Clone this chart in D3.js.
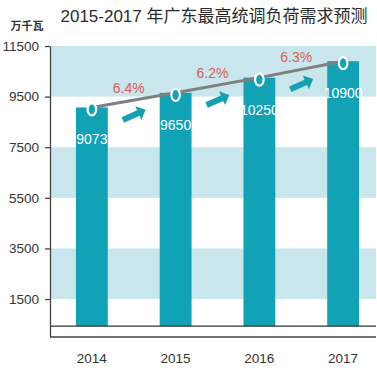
<!DOCTYPE html>
<html>
<head>
<meta charset="utf-8">
<script src="https://cdn.jsdelivr.net/npm/d3@7"></script>
<style>
  body { margin: 0; background: #fff; }
  text { font-family: "Liberation Sans", Arial, "Noto Sans CJK SC", sans-serif; }
</style>
</head>
<body>
<div id="chart"></div>
<script>
// data
const years = ["2014", "2015", "2016", "2017"];
const load = [9073, 9650, 10250, 10900];
const growth = ["6.4%", "6.2%", "6.3%"];
const yTicks = [1500, 3500, 5500, 7500, 9500, 11500];
const shadedBands = [[1500, 3500], [5500, 7500], [9500, 11500]];
const baseValue = 430;

const W = 377, H = 370;
const plotLeft = 50, plotRight = 376, plotTop = 46, plotBottom = 337;

const svg = d3.select("#chart").append("svg")
    .attr("width", W)
    .attr("height", H);

const x = d3.scaleBand().domain(years).range([plotLeft, 385])
    .paddingInner(0.62).paddingOuter(0.31);
const y = d3.scaleLinear().domain([0, 11500]).range([plotBottom, plotTop]);

//Shaded background bands
svg.selectAll(".band")
    .data(shadedBands)
    .enter().append("rect")
    .attr("x", plotLeft)
    .attr("width", plotRight - plotLeft)
    .attr("y", d => y(d[1]))
    .attr("height", d => y(d[0]) - y(d[1]))
    .attr("fill", "#c9e6ec");

//Bars
svg.selectAll(".bar")
    .data(years)
    .enter().append("rect")
    .attr("x", d => x(d))
    .attr("width", x.bandwidth())
    .attr("y", (d, i) => y(load[i]))
    .attr("height", (d, i) => y(baseValue) - y(load[i]))
    .attr("fill", "#12a2b6");

//Baseline and bottom line
svg.append("line")
    .attr("x1", plotLeft).attr("x2", plotRight)
    .attr("y1", y(baseValue)).attr("y2", y(baseValue))
    .attr("stroke", "#333").attr("stroke-width", 1.3);
svg.append("line")
    .attr("x1", plotLeft).attr("x2", plotRight)
    .attr("y1", y(0)).attr("y2", y(0))
    .attr("stroke", "#444").attr("stroke-width", 1.3);

//Left axis
const yAxis = svg.append("g")
    .attr("transform", "translate(" + plotLeft + ",0)")
    .call(d3.axisLeft(y).tickValues(yTicks).tickFormat(d3.format("d"))
        .tickSize(5).tickSizeOuter(0).tickPadding(6));
yAxis.select(".domain").attr("stroke", "#444").attr("stroke-width", 1.3);
yAxis.selectAll(".tick line").attr("stroke", "#444").attr("stroke-width", 1.3);
yAxis.selectAll(".tick text")
    .attr("fill", "#333")
    .style("font-size", "13.5px");

//Year labels
svg.selectAll(".year")
    .data(years)
    .enter().append("text")
    .attr("x", d => x(d) + x.bandwidth() / 2)
    .attr("y", 363)
    .attr("text-anchor", "middle")
    .attr("fill", "#333")
    .style("font-size", "13.5px")
    .text(d => d);

//Trend line through the bar tops
const cx = d => x(d) + x.bandwidth() / 2;
const line = d3.line()
    .x((d, i) => cx(years[i]))
    .y(d => y(d));
svg.append("path")
    .datum(load)
    .attr("d", line)
    .attr("fill", "none")
    .attr("stroke", "#7d7f80")
    .attr("stroke-width", 3);

//Markers
svg.selectAll(".dot")
    .data(load)
    .enter().append("ellipse")
    .attr("cx", (d, i) => cx(years[i]))
    .attr("cy", d => y(d) + 2)
    .attr("rx", 4.3)
    .attr("ry", 6)
    .attr("fill", "#12a2b6")
    .attr("stroke", "#fff")
    .attr("stroke-width", 2.2);

//Value labels
svg.selectAll(".val")
    .data(load)
    .enter().append("text")
    .attr("x", (d, i) => cx(years[i]))
    .attr("y", d => y(d) + 37)
    .attr("text-anchor", "middle")
    .attr("fill", "#fff")
    .style("font-size", "14px")
    .text(d => d);

//Growth labels and arrows between bars
const mid = growth.map((g, i) => ({
    g: g,
    x: (cx(years[i]) + cx(years[i + 1])) / 2,
    y: (y(load[i]) + y(load[i + 1])) / 2
}));

svg.selectAll(".pct")
    .data(mid)
    .enter().append("text")
    .attr("x", d => d.x - 5)
    .attr("y", d => d.y - 7)
    .attr("text-anchor", "middle")
    .attr("fill", "#de5a50")
    .style("font-size", "14px")
    .text(d => d.g);

const arrowPath = "M-12,-3 L5,-3 L5,-7.5 L13,0 L5,7.5 L5,3 L-12,3 Z";
svg.selectAll(".arrow")
    .data(mid)
    .enter().append("path")
    .attr("d", arrowPath)
    .attr("transform", d => "translate(" + (d.x) + "," + (d.y + 15) + ") rotate(-24)")
    .attr("fill", "#17a0b3");

//Title and unit
svg.append("text")
    .attr("x", 214)
    .attr("y", 22)
    .attr("text-anchor", "middle")
    .attr("fill", "#2b2b2b")
    .style("font-size", "17px")
    .text("2015-2017 年广东最高统调负荷需求预测");

svg.append("text")
    .attr("x", 27)
    .attr("y", 30)
    .attr("text-anchor", "middle")
    .attr("fill", "#333")
    .style("font-size", "11px")
    .style("font-weight", "bold")
    .text("万千瓦");
</script>
</body>
</html>
